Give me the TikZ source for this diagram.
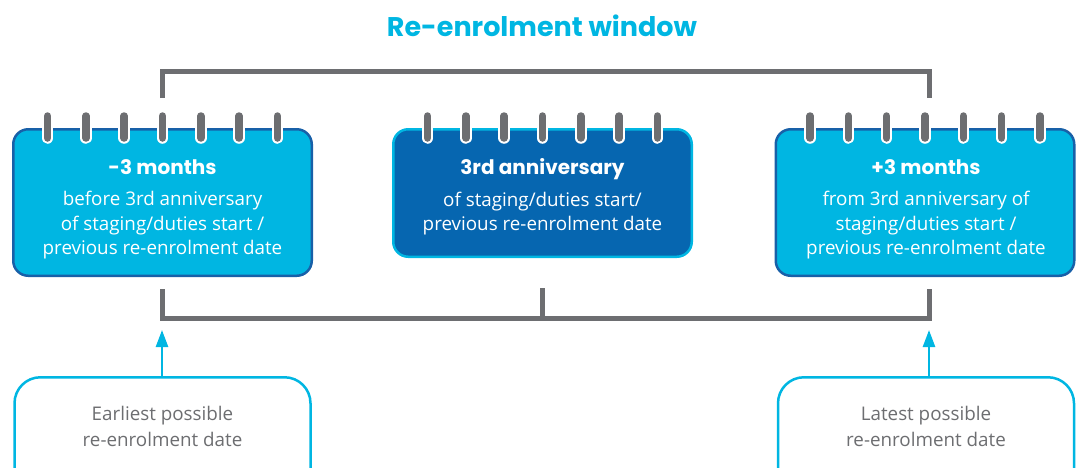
\documentclass[tikz,border=0pt]{standalone}
\usepackage{fontspec}
\setmainfont{Open Sans}
\newfontfamily\headfont{Poppins}
\usetikzlibrary{arrows.meta}

\definecolor{wincyan}{RGB}{0,182,226}
\definecolor{navyedge}{RGB}{24,96,168}
\definecolor{deepblue}{RGB}{6,102,176}
\definecolor{ringgray}{RGB}{109,110,113}

\tikzset{
  card/.style={draw, line width=2.5pt, rounded corners=15pt,
    minimum width=298.5pt, inner sep=0pt},
  sidecard/.style={card, draw=navyedge, fill=wincyan, minimum height=146.5pt},
  maincard/.style={card, draw=wincyan, fill=deepblue, minimum height=127.5pt},
  cardtext/.style={text=white, align=center, inner sep=0pt,
    font=\fontsize{18.8}{24.5}\selectfont},
  notebox/.style={draw=wincyan, line width=2.5pt, rounded corners=26pt,
    fill=white, minimum width=296pt, minimum height=117.5pt, inner sep=0pt},
  notetext/.style={text=ringgray, align=center, inner sep=0pt,
    font=\fontsize{18.8}{26}\selectfont},
  titletext/.style={text=wincyan, inner sep=0pt,
    font=\headfont\bfseries\fontsize{27}{32}\selectfont},
  bracket/.style={draw=ringgray, line width=5pt},
  pointer/.style={draw=wincyan, line width=2.5pt,
    -{Triangle[width=12pt,length=17pt]}},
  ringhole/.style={white, line width=11.5pt, line cap=round},
  ring/.style={ringgray, line width=7.5pt, line cap=round},
}
\newcommand{\cardhead}[1]{{\headfont\bfseries\fontsize{20}{24}\selectfont #1}\\[7pt]}

\begin{document}
\begin{tikzpicture}[x=1pt, y=-1pt]
  \useasboundingbox (0,0) rectangle (1077,467);
  \clip (0,0) rectangle (1077,467);

  % heading
  \node[titletext] (ttl) at (542,25.5) {Re-enrolment window};

  % window brackets
  \coordinate (topL) at (162,98);
  \coordinate (topR) at (929,98);
  \coordinate (botL) at (162,289);
  \coordinate (botR) at (929,289);
  \coordinate (botM) at (542,288);
  \draw[bracket] (topL) -- ++(0,-27) -| (topR);
  \draw[bracket] (botL) -- ++(0,29) -| (botR);
  \draw[bracket] (botM) -- ++(0,30);

  % calendar cards
  \node[sidecard] (lcard) at (162.5,202.5) {};
  \node[maincard] (mcard) at (542.5,193) {};
  \node[sidecard] (rcard) at (925,202.5) {};

  % spiral rings
  \foreach \c in {lcard,mcard,rcard}{
    \foreach \k in {-3,...,3}{
      \draw[ringhole] ([xshift=\k*38.3pt, yshift=12pt]\c.north)
        -- ([xshift=\k*38.3pt, yshift=-10pt]\c.north);
      \draw[ring] ([xshift=\k*38.3pt, yshift=12pt]\c.north)
        -- ([xshift=\k*38.3pt, yshift=-10pt]\c.north);
    }
  }

  % card texts
  \node[cardtext] (ltxt) at (162.5,209.5) {\cardhead{-3 months}before 3rd anniversary\\of staging/duties start /\\previous re-enrolment date};
  \node[cardtext] (mtxt) at (542.5,197) {\cardhead{3rd anniversary}of staging/duties start/\\previous re-enrolment date};
  \node[cardtext] (rtxt) at (926,209.5) {\cardhead{+3 months}from 3rd anniversary of\\staging/duties start /\\previous re-enrolment date};

  % note boxes
  \node[notebox] (lnote) at (162.5,436) {};
  \node[notebox] (rnote) at (926,436) {};
  \node[notetext] (lnotetxt) at (162.5,426) {Earliest possible\\re-enrolment date};
  \node[notetext] (rnotetxt) at (926,426) {Latest possible\\re-enrolment date};

  % pointers into the window
  \draw[pointer] (lnote.north -| botL) -- ++(0,-46);
  \draw[pointer] (rnote.north -| botR) -- ++(0,-46);
\end{tikzpicture}
\end{document}
